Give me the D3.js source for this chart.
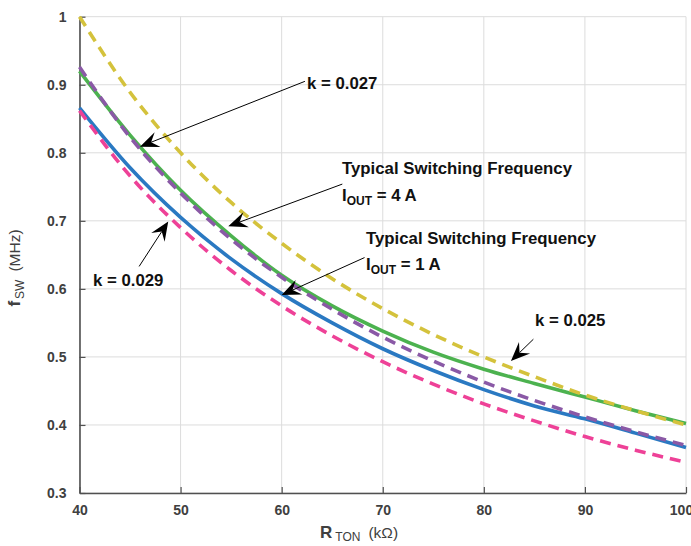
<!DOCTYPE html>
<html><head><meta charset="utf-8">
<script src="https://cdn.jsdelivr.net/npm/d3@7"></script>
<style>
html,body{margin:0;padding:0;background:#fff;}
svg{display:block;font-family:"Liberation Sans",Arial,sans-serif;}
</style></head>
<body>
<svg id="c" width="691" height="546"></svg>
<script>
// ---- data ----
const rton = [40,45,50,55,60,65,70,75,80,85,90,95,100];
const k025 = [1.000,0.889,0.800,0.727,0.667,0.615,0.571,0.533,0.500,0.471,0.444,0.421,0.400];
const k027 = [0.926,0.823,0.741,0.673,0.617,0.570,0.529,0.494,0.463,0.436,0.412,0.390,0.370];
const k029 = [0.862,0.766,0.690,0.627,0.575,0.531,0.493,0.460,0.431,0.406,0.383,0.363,0.345];
const typ4A = [0.920,0.826,0.745,0.678,0.620,0.575,0.538,0.507,0.482,0.461,0.441,0.421,0.402];
const typ1A = [0.866,0.778,0.705,0.644,0.593,0.550,0.512,0.480,0.452,0.428,0.409,0.388,0.367];
const xTicks = [40,50,60,70,80,90,100];
const yTicks = [0.3,0.4,0.5,0.6,0.7,0.8,0.9,1];

const svg = d3.select("#c");
const x = d3.scaleLinear().domain([40,100]).range([79.5,686]);
const y = d3.scaleLinear().domain([0.3,1]).range([493,16.7]);

// gridlines
const grid = svg.append("g");
grid.selectAll(".gx").data(xTicks).join("line")
  .attr("x1",d=>x(d)).attr("x2",d=>x(d)).attr("y1",y(1)).attr("y2",y(0.3))
  .attr("stroke","#dcdcdc").attr("stroke-width",1);
grid.selectAll(".gy").data(yTicks).join("line")
  .attr("x1",x(40)).attr("x2",x(100)).attr("y1",d=>y(d)).attr("y2",d=>y(d))
  .attr("stroke","#dcdcdc").attr("stroke-width",1);

// axes
const axX = svg.append("g").attr("transform",`translate(0,${y(0.3)})`)
  .call(d3.axisBottom(x).tickValues(xTicks).tickSizeInner(-6).tickSizeOuter(0).tickPadding(12).tickFormat(d3.format("d")));
const axY = svg.append("g").attr("transform",`translate(${x(40)},0)`)
  .call(d3.axisLeft(y).tickValues(yTicks).tickSizeInner(-6).tickSizeOuter(0).tickPadding(13).tickFormat(d=>d===1?"1":d3.format(".1f")(d)));
[axX,axY].forEach(a=>{
  a.select(".domain").attr("stroke","#505050").attr("stroke-width",1.6);
  a.selectAll(".tick line").attr("stroke","#505050").attr("stroke-width",1.2);
  a.selectAll(".tick text").attr("fill","#404040").attr("font-weight","bold")
   .attr("font-size","14px").attr("font-family","'Liberation Sans',Arial,sans-serif");
});
axX.selectAll(".tick text").filter(d=>d===100).attr("dx","-5");

// series
const series = [
  {v:typ4A, color:"#4cb24f", dash:null},
  {v:typ1A, color:"#2a79c2", dash:null},
  {v:k025, color:"#d4c23c", dash:"11,7"},
  {v:k027, color:"#8a59a6", dash:"11,7"},
  {v:k029, color:"#ee4197", dash:"11,7"}
];
const line = d3.line().x((d,i)=>x(rton[i])).y(d=>y(d)).curve(d3.curveMonotoneX);
svg.append("g").selectAll("path").data(series).join("path")
  .attr("d",s=>line(s.v)).attr("fill","none")
  .attr("stroke",s=>s.color).attr("stroke-width",3.6)
  .attr("stroke-dasharray",s=>s.dash);

// annotations (arrow tip & tail in data units)
const ann = [
  {tip:[45.98,0.809], from:[62.3,0.905]},
  {tip:[54.72,0.692], from:[66.0,0.754]},
  {tip:[60.0,0.591], from:[68.2,0.646]},
  {tip:[48.78,0.699], from:[45.9,0.633]},
  {tip:[82.68,0.494], from:[84.9,0.526]}
];
const ag = svg.append("g");
ann.forEach(a=>{
  const tx=x(a.tip[0]), ty=y(a.tip[1]), fx=x(a.from[0]), fy=y(a.from[1]);
  const dx=tx-fx, dy=ty-fy, L=Math.hypot(dx,dy), ux=dx/L, uy=dy/L, nx=-uy, ny=ux;
  const HL=19, HW=8, N=7;
  ag.append("line").attr("x1",fx).attr("y1",fy).attr("x2",tx-ux*(HL-N)).attr("y2",ty-uy*(HL-N))
    .attr("stroke","#000").attr("stroke-width",1);
  ag.append("path").attr("d",`M${tx},${ty}L${tx-HL*ux+HW*nx},${ty-HL*uy+HW*ny}L${tx-(HL-N)*ux},${ty-(HL-N)*uy}L${tx-HL*ux-HW*nx},${ty-HL*uy-HW*ny}Z`)
    .attr("fill","#000");
});

function txt(px,py,parts){
  const t = svg.append("text").attr("x",px).attr("y",py).attr("fill","#111")
    .attr("font-weight","bold").attr("font-size","16.8px");
  parts.forEach(p=>{
    const s=t.append("tspan").text(p.t);
    if(p.sub){s.attr("font-size","12px").attr("dy","4");}
    if(p.up){s.attr("dy","-4");}
  });
}
txt(307,89,[{t:"k = 0.027"}]);
txt(342,174,[{t:"Typical Switching Frequency"}]);
txt(342,201,[{t:"I"},{t:"OUT",sub:true},{t:" = 4 A",up:true}]);
txt(366,244,[{t:"Typical Switching Frequency"}]);
txt(366,270,[{t:"I"},{t:"OUT",sub:true},{t:" = 1 A",up:true}]);
txt(93,286,[{t:"k = 0.029"}]);
txt(535,326,[{t:"k = 0.025"}]);

// axis titles
const xt = svg.append("text").attr("x",320).attr("y",538).attr("fill","#404040");
xt.append("tspan").text("R").attr("font-weight","bold").attr("font-size","17px");
xt.append("tspan").text("TON").attr("font-size","12px").attr("dy","3").attr("dx","3");
xt.append("tspan").text("(kΩ)").attr("font-size","15.5px").attr("dy","-3").attr("dx","8");

const yt = svg.append("text").attr("transform","translate(20,268) rotate(-90)")
  .attr("text-anchor","middle").attr("fill","#404040");
yt.append("tspan").text("f").attr("font-weight","bold").attr("font-size","17px");
yt.append("tspan").text("SW").attr("font-size","12px").attr("dy","4").attr("dx","2");
yt.append("tspan").text("(MHz)").attr("font-size","15.5px").attr("dy","-4").attr("dx","8");
</script>
</body></html>
